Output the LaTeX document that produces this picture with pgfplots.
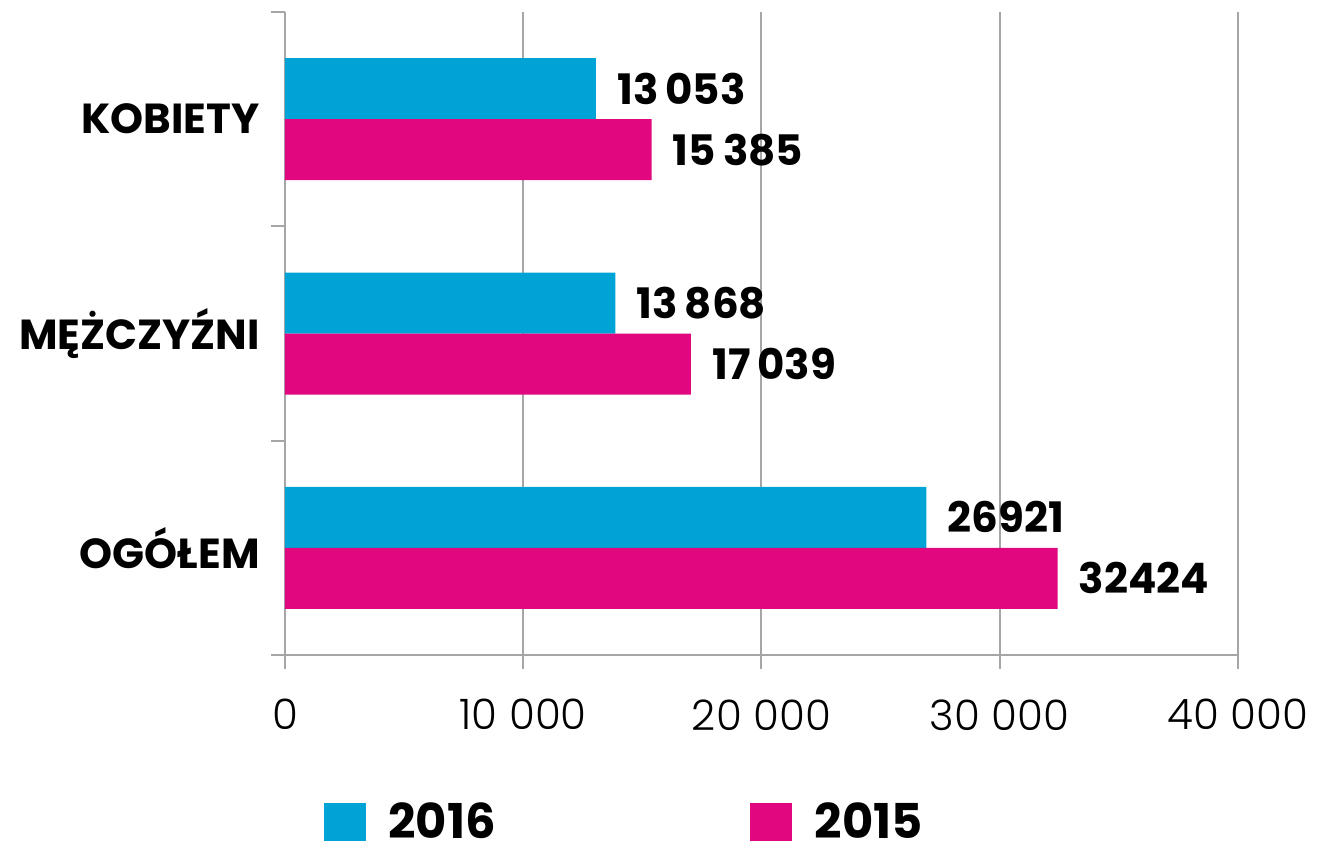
\documentclass[border=0pt]{standalone}
\usepackage{fontspec}
\setmainfont{Poppins}
\newfontfamily\lightfont{Poppins Light}
\usepackage{pgfplots}
\pgfplotsset{compat=1.18}
\definecolor{cy}{RGB}{0,163,213}
\definecolor{mg}{RGB}{224,7,127}
\definecolor{gr}{RGB}{166,166,166}
\pgfplotsset{sqlegend/.style={legend image code/.code={\fill[##1] (0pt,-9.5pt) rectangle (21pt,9.5pt);}}}
\begin{document}
\begin{tikzpicture}[x=1pt,y=1pt]
\useasboundingbox (-142.5,-96.5) rectangle (518.5,327.5);
\begin{axis}[
  at={(0,0)}, anchor=south west,
  scale only axis, width=476.5pt, height=321.5pt,
  xmin=0, xmax=40000, ymin=-0.5, ymax=2.5,
  xbar,
  axis lines=left,
  axis line style={-, draw=gr, line width=1pt},
  xmajorgrids, grid style={draw=gr, line width=1pt},
  tick align=outside, major tick length=7pt,
  tick style={draw=gr, line width=1pt},
  scaled x ticks=false,
  xtick={0,10000,20000,30000,40000},
  xticklabels={0,10 000,20 000,30 000,40 000},
  xticklabel style={font=\lightfont\fontsize{21}{21}\selectfont, inner sep=0pt, anchor=north, yshift=-15pt},
  ytick={-0.5,0.5,1.5,2.5},
  yticklabels={,,,},
  extra y ticks={0,1,2},
  extra y tick labels={OGÓŁEM,MĘŻCZYŹNI,KOBIETY},
  extra y tick style={major tick length=0pt, yticklabel style={font=\bfseries\fontsize{21}{21}\selectfont, inner sep=0pt, anchor=east, xshift=-12.5pt}},
  legend columns=2,
  legend style={at={(0.04,-0.2597)}, anchor=west, draw=none, fill=none, inner sep=0pt,
    nodes={inner sep=0pt},
    font=\bfseries\fontsize{24}{24}\selectfont,
    /tikz/every odd column/.append style={column sep=11.5pt},
    /tikz/every even column/.append style={column sep=127pt}},
  nodes near coords,
  point meta=explicit symbolic,
  nodes near coords style={anchor=west, inner sep=0pt, xshift=10.5pt, font=\bfseries\fontsize{21}{21}\selectfont, text=black},
]
\addplot[fill=cy, draw=none, bar width=30.5pt, bar shift=15.25pt, sqlegend]
  coordinates {(26921,0) [26921] (13868,1) [13\,868] (13053,2) [13\,053]};
\addplot[fill=mg, draw=none, bar width=30.5pt, bar shift=-15.25pt, sqlegend]
  coordinates {(32424,0) [32424] (17039,1) [17\,039] (15385,2) [15\,385]};
\legend{2016,2015}
\end{axis}
\end{tikzpicture}
\end{document}
